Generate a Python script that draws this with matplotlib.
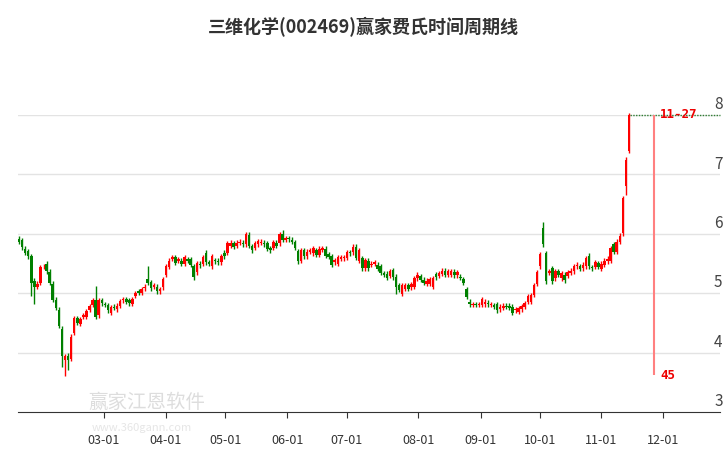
import matplotlib
matplotlib.use("Agg")
import matplotlib.pyplot as plt

plt.rcParams['font.family'] = ['Noto Sans CJK SC', 'DejaVu Sans']

title = "三维化学(002469)赢家费氏时间周期线"
tick_pos = [27.7, 47.9, 67.3, 87.5, 107.0, 130.2, 150.7, 170.0, 189.9, 210.1]
tick_labels = ["03-01", "04-01", "05-01", "06-01", "07-01", "08-01", "09-01", "10-01", "11-01", "12-01"]
y_levels = [3, 4, 5, 6, 7, 8]

opens = [5.92,5.89,5.75,5.71,5.62,5.21,5.11,5.17,5.45,5.5,5.36,5.16,4.89,4.72,4.4,3.87,3.95,3.9,4.33,4.58,
4.48,4.6,4.6,4.72,4.8,4.89,4.63,4.88,4.82,4.8,4.67,4.77,4.73,4.79,4.88,4.9,4.88,4.82,4.96,5.03,
5.01,5.08,5.24,5.19,5.11,5.11,5.03,5.1,5.31,5.44,5.58,5.61,5.55,5.55,5.5,5.57,5.57,5.45,5.35,5.5,
5.5,5.68,5.52,5.45,5.56,5.55,5.52,5.68,5.68,5.8,5.84,5.8,5.85,5.85,5.82,5.98,5.79,5.76,5.82,5.85,
5.85,5.84,5.76,5.76,5.85,5.84,5.99,5.9,5.93,5.9,5.86,5.71,5.55,5.72,5.62,5.7,5.67,5.72,5.65,5.73,
5.75,5.66,5.62,5.52,5.5,5.58,5.59,5.6,5.69,5.69,5.78,5.55,5.59,5.42,5.55,5.48,5.5,5.48,5.45,5.34,
5.33,5.29,5.39,5.28,5.14,4.99,5.07,5.14,5.1,5.11,5.25,5.29,5.23,5.16,5.16,5.11,5.32,5.29,5.33,5.38,
5.31,5.31,5.36,5.3,5.28,5.24,5.07,4.86,4.8,4.82,4.8,4.8,4.81,4.84,4.8,4.8,4.82,4.73,4.75,4.79,
4.79,4.77,4.71,4.69,4.73,4.77,4.86,4.85,4.97,5.16,5.45,6.1,5.67,5.34,5.42,5.25,5.37,5.25,5.31,5.29,
5.34,5.37,5.45,5.45,5.42,5.45,5.63,5.44,5.44,5.51,5.41,5.48,5.54,5.55,5.82,5.7,5.86,6.01,6.8,7.4]
closes = [5.86,5.77,5.68,5.62,5.17,5.11,5.16,5.44,5.46,5.37,5.17,4.89,4.75,4.45,3.95,3.94,3.87,4.27,4.58,4.5,
4.56,4.63,4.7,4.78,4.88,4.6,4.88,4.83,4.8,4.71,4.76,4.75,4.79,4.87,4.9,4.86,4.83,4.9,5.0,5.01,
5.07,5.11,5.17,5.08,5.14,5.03,5.07,5.24,5.45,5.55,5.61,5.51,5.57,5.5,5.61,5.55,5.48,5.27,5.5,5.47,
5.61,5.52,5.5,5.62,5.54,5.52,5.62,5.62,5.84,5.85,5.78,5.85,5.87,5.82,5.99,5.8,5.72,5.84,5.88,5.87,
5.82,5.75,5.72,5.86,5.8,5.99,5.9,5.93,5.91,5.86,5.76,5.54,5.72,5.62,5.7,5.72,5.76,5.65,5.75,5.76,
5.63,5.61,5.48,5.56,5.61,5.61,5.61,5.69,5.67,5.78,5.6,5.72,5.42,5.56,5.42,5.5,5.52,5.41,5.34,5.31,
5.26,5.37,5.27,5.11,5.06,5.13,5.14,5.07,5.15,5.25,5.31,5.23,5.17,5.21,5.24,5.25,5.27,5.34,5.38,5.31,
5.37,5.37,5.3,5.35,5.26,5.18,4.94,4.81,4.82,4.8,4.82,4.9,4.86,4.81,4.82,4.77,4.71,4.77,4.79,4.77,
4.75,4.67,4.73,4.75,4.78,4.83,4.95,4.97,5.13,5.35,5.66,5.82,5.2,5.37,5.2,5.37,5.31,5.34,5.22,5.35,
5.38,5.45,5.48,5.41,5.48,5.59,5.45,5.42,5.52,5.44,5.5,5.55,5.58,5.76,5.7,5.87,5.97,6.6,7.25,8.0]
# notable long wicks (index: value)
low_wicks = {14: 3.75, 15: 3.6, 16: 3.7, 4: 4.95, 5: 4.82, 172: 5.15, 198: 6.65, 123: 4.98}
high_wicks = {171: 6.2, 42: 5.45, 25: 5.12, 75: 6.03, 86: 6.07}
vline_idx = 207.2
vline_low = 3.62
label_date = "11-27"
label_num = "45"

fig = plt.figure(figsize=(7.26, 4.5), dpi=100)
ax = fig.add_axes([18/726, 1-412/450, (720-18)/726, (412-115)/450])
ax.set_xlim(-0.33, 228.7)
ax.set_ylim(3, 8)

RED, GREEN = "#ff0000", "#008000"
for i, (o, c) in enumerate(zip(opens, closes)):
    col = RED if c >= o else GREEN
    hi = high_wicks.get(i, max(o, c) + 0.04)
    lo = low_wicks.get(i, min(o, c) - 0.04)
    ax.vlines(i, lo, hi, color=col, lw=1, zorder=3, clip_on=False)
    bot = min(o, c); h = max(abs(c - o), 0.015)
    ax.bar(i, h, bottom=bot, width=0.82, color=col, zorder=4, clip_on=False)

for y in y_levels:
    if y > 3:
        ax.axhline(y, color="#e3e3e3", lw=1, zorder=1)
    ax.text(0.9915, y + 0.03, str(y), transform=ax.get_yaxis_transform(), ha="left", va="bottom",
            fontsize=11, color="#444444", clip_on=False)

ax.plot([199.3, 228.7], [8, 8], color="#2e7d32", lw=1, ls=(0, (1, 1)), zorder=2, clip_on=False)
ax.vlines(vline_idx, vline_low, 8, color="#ff8080", lw=1.5, zorder=2)
ax.text(vline_idx + 2, 8, label_date, color="#ee0000", fontsize=9, fontweight="bold", va="center", ha="left",
        family="DejaVu Sans Mono")
ax.text(vline_idx + 2, vline_low, label_num, color="#ee0000", fontsize=9, fontweight="bold", va="center", ha="left",
        family="DejaVu Sans Mono")

for s in ["top", "right", "left"]:
    ax.spines[s].set_visible(False)
ax.spines["bottom"].set_color("#333333")
ax.set_yticks([])
ax.set_xticks(tick_pos)
ax.set_xticklabels(tick_labels, fontsize=9, color="#333333")
ax.tick_params(axis="x", length=4, color="#333333", pad=12)

fig.text(0.5, 1-27/450, title, ha="center", va="center", fontsize=13, fontweight="bold", color="#333333")
fig.text(88/726, 1-402/450, "赢家江恩软件", fontsize=14, color="#dddddd", va="center", zorder=0)
fig.text(92/726, 1-428/450, "www.360gann.com", fontsize=8, color="#e6e6e6", va="center", zorder=0)

fig.savefig("out.png", dpi=100)
